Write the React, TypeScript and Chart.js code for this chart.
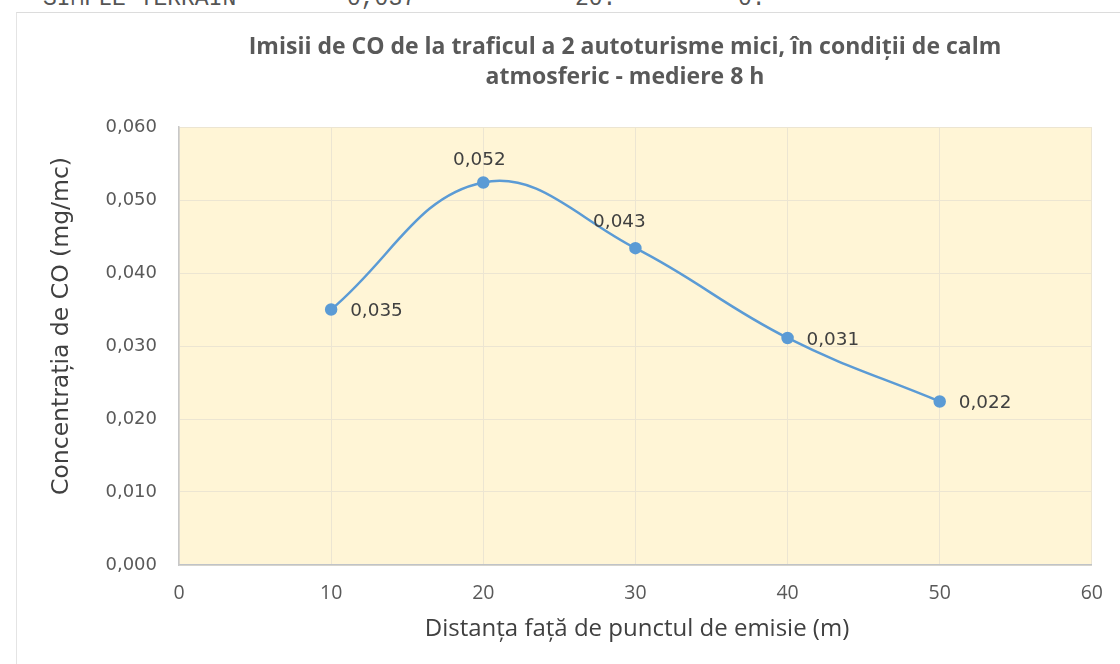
import React, { useEffect, useRef } from "react";
import { Chart, registerables } from "chart.js";

Chart.register(...registerables);

const distances = [10, 20, 30, 40, 50];
const concentrations = [0.035, 0.0524, 0.0434, 0.0311, 0.0224];
const labelPlacement = ["right", "above", "aboveLeft", "right", "right"];
const titleLines = [
  "Imisii de CO de la traficul a 2 autoturisme mici, în condiții de calm",
  "atmosferic - mediere 8 h",
];
const yAxisTitle = "Concentrația de CO (mg/mc)";
const xAxisTitle = "Distanța față de punctul de emisie (m)";
const headerTexts = [
  { text: "SIMPLE TERRAIN", left: 43 },
  { text: "0,037", left: 347 },
  { text: "20.", left: 575 },
  { text: "0.", left: 738 },
];

const fmt = (v: number) => v.toFixed(3).replace(".", ",");

const plotBg = {
  id: "plotBg",
  beforeDraw(chart: any) {
    const { ctx, chartArea } = chart;
    ctx.save();
    ctx.fillStyle = "#FFF5D6";
    ctx.fillRect(chartArea.left, chartArea.top, chartArea.right - chartArea.left, chartArea.bottom - chartArea.top);
    ctx.restore();
  },
};

const extras = {
  id: "extras",
  afterDatasetsDraw(chart: any) {
    const { ctx } = chart;
    const meta = chart.getDatasetMeta(0);
    ctx.save();
    ctx.font = "18.4px 'DejaVu Sans'";
    ctx.fillStyle = "#404040";
    ctx.textBaseline = "middle";
    meta.data.forEach((pt: any, i: number) => {
      const txt = fmt(concentrations[i]);
      const p = labelPlacement[i];
      if (p === "right") {
        ctx.textAlign = "left";
        ctx.fillText(txt, pt.x + 19, pt.y + 2);
      } else if (p === "above") {
        ctx.textAlign = "center";
        ctx.fillText(txt, pt.x - 4, pt.y - 22);
      } else {
        ctx.textAlign = "center";
        ctx.fillText(txt, pt.x - 16, pt.y - 26);
      }
    });
    ctx.restore();
  },
  afterDraw(chart: any) {
    const { ctx } = chart;
    // chart title
    ctx.save();
    ctx.fillStyle = "#595959";
    ctx.textAlign = "center";
    ctx.textBaseline = "middle";
    ctx.font = "bold 23px 'Open Sans'";
    titleLines.forEach((line, i) => ctx.fillText(line, 609, 35 + i * 30));
    ctx.restore();
    // y axis title
    ctx.save();
    ctx.fillStyle = "#404040";
    ctx.textAlign = "center";
    ctx.textBaseline = "middle";
    ctx.font = "23.5px 'DejaVu Sans'";
    ctx.translate(46, 314);
    ctx.rotate(-Math.PI / 2);
    ctx.fillText(yAxisTitle, 0, 0);
    ctx.restore();
    // x axis title
    ctx.save();
    ctx.fillStyle = "#404040";
    ctx.textAlign = "center";
    ctx.textBaseline = "middle";
    ctx.font = "24px 'Open Sans'";
    ctx.fillText(xAxisTitle, 621, 617);
    ctx.restore();
  },
};

export default function App() {
  const ref = useRef<HTMLCanvasElement>(null);
  useEffect(() => {
    if (!ref.current) return;
    const chart = new Chart(ref.current, {
      type: "scatter",
      data: {
        datasets: [
          {
            data: distances.map((d, i) => ({ x: d, y: concentrations[i] })),
            showLine: true,
            borderColor: "#5B9BD5",
            backgroundColor: "#5B9BD5",
            borderWidth: 2.5,
            pointRadius: 5,
            pointBackgroundColor: "#5B9BD5",
            pointBorderColor: "#5B9BD5",
            tension: 0.4,
          },
        ],
      },
      options: {
        animation: false,
        responsive: false,
        layout: { padding: { left: 0, right: 23, top: 115, bottom: 0 } },
        plugins: {
          legend: { display: false },
          tooltip: { enabled: false },
          title: { display: false },
        },
        scales: {
          x: {
            type: "linear",
            min: 0,
            max: 60,
            ticks: {
              stepSize: 10,
              color: "#595959",
              font: { family: "'Open Sans'", size: 19.5 },
              padding: 17,
            },
            grid: { color: "#ECE5D2", drawTicks: false },
            border: { color: "#BFC3C8", width: 1.5 },
            afterFit(scale: any) {
              scale.height = 99;
            },
          },
          y: {
            min: 0,
            max: 0.06,
            ticks: {
              stepSize: 0.01,
              color: "#595959",
              font: { family: "'DejaVu Sans'", size: 18 },
              padding: 22,
              callback: (v: any) => fmt(Number(v)),
            },
            grid: { color: "#ECE5D2", drawTicks: false },
            border: { color: "#C8C8C8", width: 1.5 },
            afterFit(scale: any) {
              scale.width = 163;
            },
          },
        },
      },
      plugins: [plotBg, extras],
    });
    return () => chart.destroy();
  }, []);

  return (
    <div style={{ position: "absolute", left: 0, top: 0, width: 1120, height: 664, overflow: "hidden", background: "#fff" }}>
      {headerTexts.map((h, i) => (
        <span
          key={i}
          style={{
            position: "absolute",
            left: h.left,
            top: -13,
            fontFamily: "'Liberation Mono', monospace",
            fontSize: 23,
            lineHeight: "24px",
            color: "#555",
            whiteSpace: "pre",
          }}
        >
          {h.text}
        </span>
      ))}
      <div
        style={{
          position: "absolute",
          left: 16,
          top: 12,
          width: 1104,
          height: 652,
          borderTop: "1px solid #DCDCDC",
          borderLeft: "1px solid #E4E4E4",
          boxSizing: "border-box",
        }}
      />
      <canvas
        ref={ref}
        width={1104}
        height={652}
        style={{ position: "absolute", left: 16, top: 12, width: 1104, height: 652 }}
      />
    </div>
  );
}
